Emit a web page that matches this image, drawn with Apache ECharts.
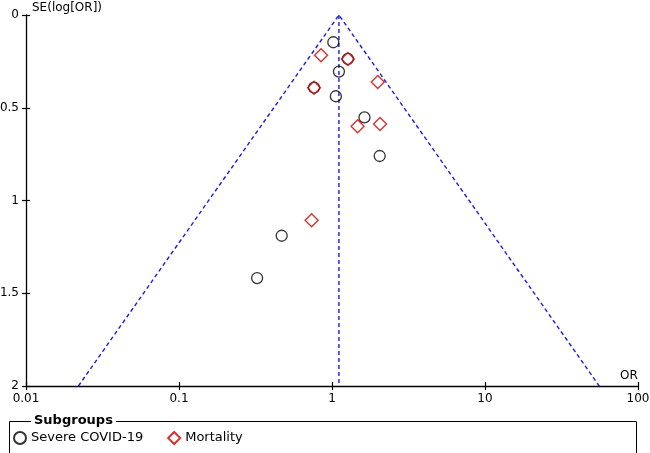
<!DOCTYPE html>
<html><head><meta charset="utf-8">
<script src="https://cdn.jsdelivr.net/npm/echarts@6/dist/echarts.min.js"></script>
<style>html,body{margin:0;padding:0;background:#fff}#c{width:650px;height:453px}</style>
</head><body><div id="c"></div>
<script>
// Data (OR, SE(log[OR]))
var severeOR = [1.02, 1.11, 1.06, 1.63, 2.05, 0.469, 0.324, 0.763, 1.27];
var severeSE = [0.147, 0.305, 0.438, 0.552, 0.760, 1.19, 1.418, 0.392, 0.237];
var mortOR = [0.848, 1.27, 0.763, 1.99, 1.47, 2.06, 0.736];
var mortSE = [0.217, 0.237, 0.392, 0.361, 0.600, 0.588, 1.107];
var funnelOR = [0.022, 1.11, 55.8];
var funnelSE = [2, 0, 2];
var pooledOR = [1.11, 1.11];
var pooledSE = [0, 2];
var xTicks = ['0.01', '0.1', '1', '10', '100'];
var yTicks = ['0', '0.5', '1', '1.5', '2'];

function pairs(a, b) { return a.map(function (v, i) { return [v, b[i]]; }); }

var font = 'DejaVu Sans';
var chart = echarts.init(document.getElementById('c'), null, { renderer: 'canvas' });
var axisLine = { onZero: false, lineStyle: { color: '#000', width: 1.3 } };
var tickStyle = { color: '#000', width: 1.2 };
var noLine = { show: false, onZero: false };
chart.setOption({
  animation: false,
  textStyle: { fontFamily: font },
  grid: [
    { left: 26, right: 12, top: 15, bottom: 67, containLabel: false, outerBoundsMode: 'none' },
    // helper grid whose right edge sits on the y axis: gives the inward half of the y ticks
    { left: 0, width: 26, top: 15, bottom: 67, containLabel: false, outerBoundsMode: 'none' },
    // helper grid whose top edge sits on the x axis: gives the inward half of the x ticks
    { left: 26, right: 12, top: 386, height: 20, containLabel: false, outerBoundsMode: 'none' }
  ],
  xAxis: [{
    gridIndex: 0, type: 'log', logBase: 10, min: 0.01, max: 100, position: 'bottom',
    axisLine: axisLine, splitLine: { show: false },
    axisTick: { show: true, length: 4, lineStyle: tickStyle },
    minorTick: { show: false },
    axisLabel: { color: '#000', fontSize: 12, fontFamily: font, margin: 7,
      formatter: function (v) { var k = Math.round(Math.log10(v)) + 2; return xTicks[k] || ''; } },
    name: 'OR', nameLocation: 'end', nameGap: -18,
    nameTextStyle: { color: '#000', fontSize: 12, fontFamily: font, verticalAlign: 'bottom', padding: [0, 0, 4, 0] }
  }, {
    gridIndex: 1, type: 'value', min: 0, max: 1, show: false
  }, {
    gridIndex: 2, type: 'log', logBase: 10, min: 0.01, max: 100, position: 'top',
    axisLine: noLine, splitLine: { show: false },
    axisTick: { show: true, length: 4, lineStyle: tickStyle },
    minorTick: { show: false }, axisLabel: { show: false }
  }],
  yAxis: [{
    gridIndex: 0, type: 'value', inverse: true, min: 0, max: 2, interval: 0.5, position: 'left',
    axisLine: axisLine, splitLine: { show: false },
    axisTick: { show: true, length: 4, lineStyle: tickStyle },
    axisLabel: { color: '#000', fontSize: 12, fontFamily: font, margin: 7,
      formatter: function (v) { return yTicks[Math.round(v * 2)]; } },
    name: 'SE(log[OR])', nameLocation: 'start', nameGap: 1,
    nameTextStyle: { color: '#000', fontSize: 12, fontFamily: font, align: 'left', padding: [0, 0, 0, 6] }
  }, {
    gridIndex: 1, type: 'value', inverse: true, min: 0, max: 2, interval: 0.5, position: 'right',
    axisLine: noLine, splitLine: { show: false },
    axisTick: { show: true, length: 4, lineStyle: tickStyle },
    axisLabel: { show: false }
  }, {
    gridIndex: 2, type: 'value', min: 0, max: 1, show: false
  }],
  legend: {
    left: 8, top: 426, itemWidth: 12, itemHeight: 12, itemGap: 24,
    textStyle: { color: '#000', fontSize: 13, fontFamily: font },
    data: ['Severe COVID\u201119', 'Mortality']
  },
  graphic: [
    { type: 'rect', shape: { x: 9.5, y: 421.5, width: 627, height: 40 }, style: { fill: null, stroke: '#000', lineWidth: 1 }, silent: true },
    { type: 'text', x: 31, y: 414, style: { text: 'Subgroups', font: 'bold 13px "DejaVu Sans"', fill: '#000', backgroundColor: '#fff', padding: [0, 3, 0, 3] }, z: 10 }
  ],
  series: [
    { type: 'line', name: 'funnel', data: pairs(funnelOR, funnelSE), symbol: 'none',
      lineStyle: { color: '#1a1ae6', width: 1.4, type: [4, 3] }, silent: true, z: 1 },
    { type: 'line', name: 'pooled', data: pairs(pooledOR, pooledSE), symbol: 'none',
      lineStyle: { color: '#1a1ae6', width: 1.4, type: [4, 3] }, silent: true, z: 1 },
    { type: 'line', name: 'helperY', xAxisIndex: 1, yAxisIndex: 1, data: [], silent: true },
    { type: 'line', name: 'helperX', xAxisIndex: 2, yAxisIndex: 2, data: [], silent: true },
    { type: 'scatter', name: 'Severe COVID\u201119', data: pairs(severeOR, severeSE), symbol: 'circle', symbolSize: 11,
      itemStyle: { color: 'rgba(255,255,255,0)', borderColor: '#000', borderWidth: 1.3 }, z: 3 },
    { type: 'scatter', name: 'Mortality', data: pairs(mortOR, mortSE), symbol: 'diamond', symbolSize: 13,
      itemStyle: { color: 'rgba(255,255,255,0)', borderColor: '#cc0000', borderWidth: 1.4 }, z: 4 }
  ]
});
</script></body></html>
